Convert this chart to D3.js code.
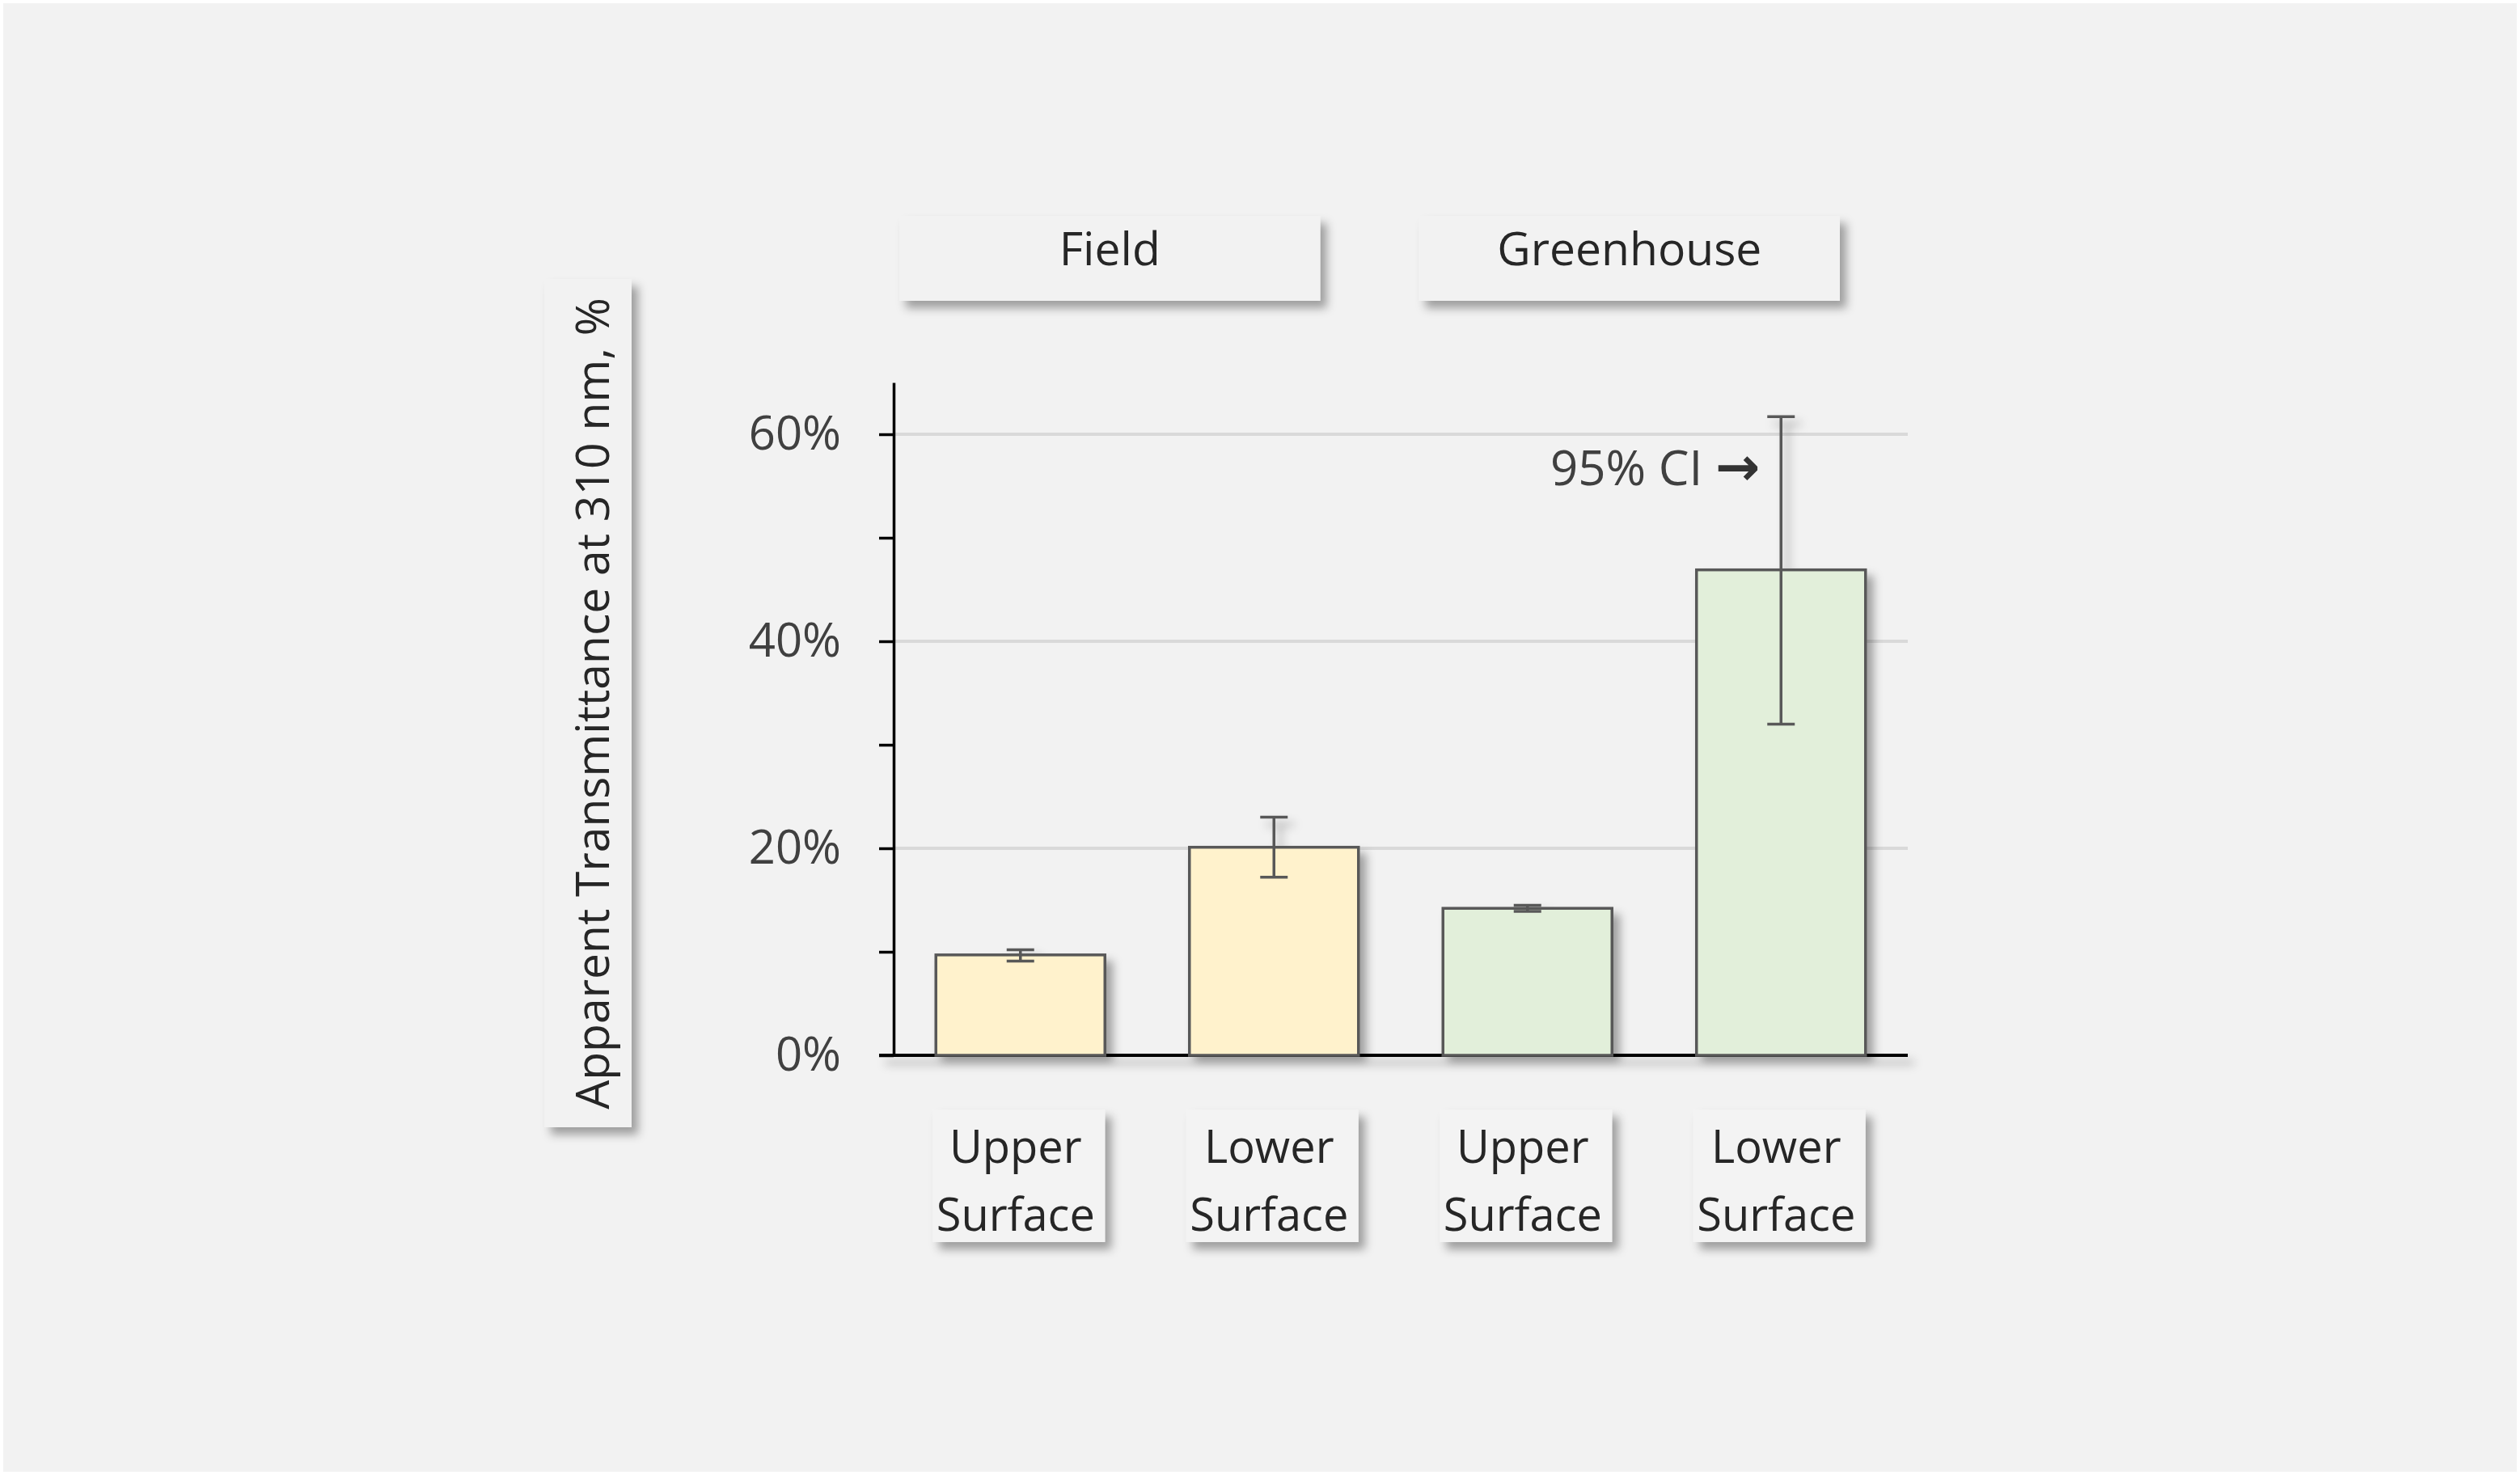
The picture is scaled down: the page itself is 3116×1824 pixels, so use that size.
<!DOCTYPE html>
<html>
<head>
<meta charset="utf-8">
<script src="https://cdn.jsdelivr.net/npm/d3@7"></script>
<style>
  body { margin: 0; background: #ffffff; }
  text { font-family: "Open Sans", "Noto Sans", sans-serif; }
</style>
</head>
<body>
<div id="chart"></div>
<script>
// data (percent)
var groups = ["Field", "Field", "Greenhouse", "Greenhouse"];
var surfaces = ["Upper Surface", "Lower Surface", "Upper Surface", "Lower Surface"];
var means = [9.7, 20.1, 14.2, 46.9];
var ciLow = [9.1, 17.2, 13.9, 32.0];
var ciHigh = [10.2, 23.0, 14.5, 61.7];
var panels = ["Field", "Greenhouse"];
var yTicks = [0, 10, 20, 30, 40, 50, 60];
var yLabelled = [0, 20, 40, 60];
var groupFill = {"Field": "#fff2cc", "Greenhouse": "#e2efda"};

var width = 3116, height = 1824;

var svg = d3.select("#chart").append("svg")
    .attr("width", width)
    .attr("height", height);

// soft shadow like the office "outer shadow"
var defs = svg.append("defs");
var f = defs.append("filter").attr("id", "shadow")
    .attr("x", "-20%").attr("y", "-20%").attr("width", "150%").attr("height", "150%");
f.append("feDropShadow")
    .attr("dx", 8).attr("dy", 9)
    .attr("stdDeviation", 6)
    .attr("flood-color", "#000")
    .attr("flood-opacity", 0.35);

svg.append("rect")
    .attr("x", 4).attr("y", 4)
    .attr("width", width - 8).attr("height", height - 8)
    .attr("fill", "#f2f2f2");

var plotLeft = 1105, plotRight = 2359, plotTop = 473, plotBottom = 1305;

var x = d3.scaleBand()
    .domain(d3.range(means.length))
    .range([plotLeft, plotRight])
    .paddingInner(1 / 3)
    .paddingOuter(1 / 6);

var y = d3.scaleLinear()
    .domain([0, 65])
    .range([plotBottom, plotTop]);

// gridlines
svg.append("g").selectAll("line")
    .data(yLabelled.filter(function(d) { return d > 0; }))
  .enter().append("line")
    .attr("x1", plotLeft).attr("x2", plotRight)
    .attr("y1", function(d) { return y(d); })
    .attr("y2", function(d) { return y(d); })
    .attr("stroke", "#d9d9d9")
    .attr("stroke-width", 4);

// y axis
var yAxis = svg.append("g")
    .attr("transform", "translate(" + plotLeft + ",0)")
    .call(d3.axisLeft(y)
      .tickValues(yTicks)
      .tickSize(18)
      .tickSizeOuter(0)
      .tickPadding(47)
      .tickFormat(function(d) { return yLabelled.indexOf(d) >= 0 ? d + "%" : ""; }));
yAxis.select(".domain").attr("stroke", "#000").attr("stroke-width", 3.5);
yAxis.selectAll(".tick line").attr("stroke", "#000").attr("stroke-width", 3.5);
yAxis.selectAll(".tick text")
    .attr("fill", "#404040")
    .style("font-size", "58px")
    .style("font-family", "'Open Sans', sans-serif");

// bars and error bars, with shadow
var plot = svg.append("g").attr("filter", "url(#shadow)");

plot.append("line")
    .attr("x1", plotLeft - 18).attr("x2", plotRight)
    .attr("y1", y(0)).attr("y2", y(0))
    .attr("stroke", "#000")
    .attr("stroke-width", 4);

plot.selectAll(".bar")
    .data(means)
  .enter().append("rect")
    .attr("class", "bar")
    .attr("x", function(d, i) { return x(i); })
    .attr("y", function(d) { return y(d); })
    .attr("width", x.bandwidth())
    .attr("height", function(d) { return y(0) - y(d); })
    .attr("fill", function(d, i) { return groupFill[groups[i]]; })
    .attr("stroke", "#595959")
    .attr("stroke-width", 3.5);

var capW = 17;
var err = plot.selectAll(".err")
    .data(means)
  .enter().append("g")
    .attr("class", "err")
    .attr("stroke", "#595959")
    .attr("stroke-width", 3.5);
err.append("line")
    .attr("x1", function(d, i) { return x(i) + x.bandwidth() / 2; })
    .attr("x2", function(d, i) { return x(i) + x.bandwidth() / 2; })
    .attr("y1", function(d, i) { return y(ciLow[i]); })
    .attr("y2", function(d, i) { return y(ciHigh[i]); });
err.append("line")
    .attr("x1", function(d, i) { return x(i) + x.bandwidth() / 2 - capW; })
    .attr("x2", function(d, i) { return x(i) + x.bandwidth() / 2 + capW; })
    .attr("y1", function(d, i) { return y(ciHigh[i]); })
    .attr("y2", function(d, i) { return y(ciHigh[i]); });
err.append("line")
    .attr("x1", function(d, i) { return x(i) + x.bandwidth() / 2 - capW; })
    .attr("x2", function(d, i) { return x(i) + x.bandwidth() / 2 + capW; })
    .attr("y1", function(d, i) { return y(ciLow[i]); })
    .attr("y2", function(d, i) { return y(ciLow[i]); });

// annotation on the last bar
var last = means.length - 1;
var note = svg.append("text")
    .attr("x", x(last) + x.bandwidth() / 2 - 26)
    .attr("y", y(ciHigh[last]) + 85)
    .attr("text-anchor", "end")
    .attr("fill", "#404040")
    .style("font-size", "60px");
note.append("tspan").text("95% CI ");
note.append("tspan")
    .style("font-family", "'DejaVu Sans', sans-serif")
    .style("font-weight", "bold")
    .style("font-size", "66px")
    .attr("fill", "#333")
    .text("\u2192");

// category label boxes under the bars
var lab = svg.append("g").selectAll(".lab")
    .data(surfaces)
  .enter().append("g")
    .attr("class", "lab")
    .attr("transform", function(d, i) { return "translate(" + (x(i) + x.bandwidth() / 2) + ",0)"; });
lab.append("rect")
    .attr("x", -x.bandwidth() / 2 - 4)
    .attr("y", 1372)
    .attr("width", x.bandwidth() + 4)
    .attr("height", 164)
    .attr("fill", "#f3f3f3")
    .attr("filter", "url(#shadow)");
lab.each(function(d) {
  var words = d.split(" ");
  var t = d3.select(this).append("text")
      .attr("text-anchor", "middle")
      .attr("fill", "#262626")
      .style("font-size", "56px");
  words.forEach(function(w, k) {
    t.append("tspan").attr("x", -6).attr("y", 1438 + k * 84).text(w);
  });
});

// panel headers
var px = d3.scaleBand()
    .domain(panels)
    .range([1112, 2275])
    .paddingInner(0.19);
var head = svg.append("g").selectAll(".head")
    .data(panels)
  .enter().append("g")
    .attr("class", "head");
head.append("rect")
    .attr("x", function(d) { return px(d); })
    .attr("y", 267)
    .attr("width", px.bandwidth())
    .attr("height", 105)
    .attr("fill", "#f2f2f2")
    .attr("filter", "url(#shadow)");
head.append("text")
    .attr("x", function(d) { return px(d) + px.bandwidth() / 2; })
    .attr("y", 328)
    .attr("text-anchor", "middle")
    .attr("fill", "#262626")
    .style("font-size", "57px")
    .text(function(d) { return d; });

// y title box
var yt = svg.append("g");
yt.append("rect")
    .attr("x", 673).attr("y", 345)
    .attr("width", 108).attr("height", 1049)
    .attr("fill", "#f2f2f2")
    .attr("filter", "url(#shadow)");
yt.append("text")
    .attr("transform", "translate(753,870) rotate(-90)")
    .attr("text-anchor", "middle")
    .attr("fill", "#262626")
    .style("font-size", "57px")
    .text("Apparent Transmittance at 310 nm, %");
</script>
</body>
</html>
